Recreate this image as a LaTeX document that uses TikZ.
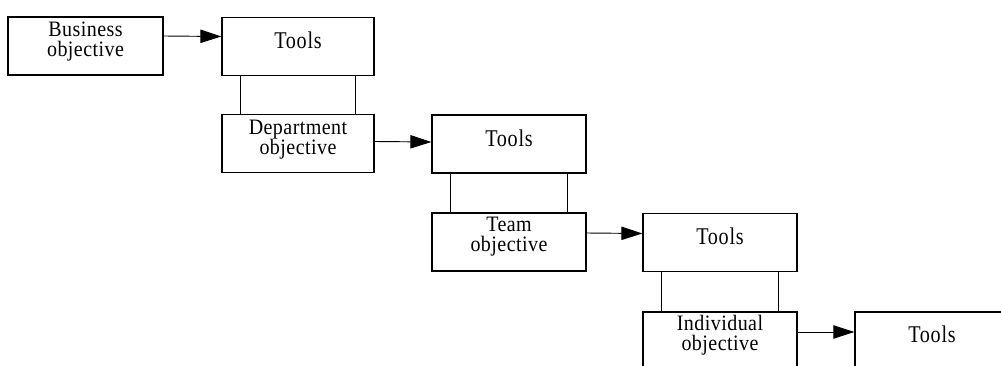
\documentclass[tikz,border=0pt]{standalone}
\usepackage{fontspec}
\setmainfont{Liberation Serif}[LetterSpace=2]
\newfontfamily\toolsfont{Liberation Serif}[FakeStretch=0.84, LetterSpace=3]
\newfontfamily\objfont{Liberation Serif}[FakeStretch=0.91, LetterSpace=2]
\usetikzlibrary{arrows.meta}
\begin{document}
\begin{tikzpicture}[x=0.75pt,y=-0.75pt,
  box/.style={draw, line width=0.9pt, inner sep=0pt,
    minimum width=115.5pt, minimum height=43.5pt},
  lbl/.style={font=\objfont\fontsize{16.5pt}{15pt}\selectfont, align=center, inner sep=0pt, anchor=base},
  tlbl/.style={font=\toolsfont\fontsize{18pt}{18pt}\selectfont, inner sep=0pt, anchor=base},
  flow/.style={-{Triangle[length=15.75pt,width=10pt]}, line width=0.7pt},
  link/.style={line width=0.6pt}]
\useasboundingbox (0,0) rectangle (1001,366);
\clip (0,0) rectangle (1001,366);

% objective / tools boxes
\node[box, minimum width=116.25pt] (biz) at (85.5,46) {};
\node[box, minimum width=114pt] (tools1) at (298,46.5) {};
\node[box, minimum width=114pt] (dept) at (298,143.5) {};
\node[box] (tools2) at (509,144) {};
\node[box] (team) at (509,242) {};
\node[box] (tools3) at (720,242.5) {};
\node[box] (indiv) at (720,341) {};
\node[box] (tools4) at (932,341) {};

% labels (base anchor sits on the last line's baseline)
\node[lbl] (tbiz) at (85.5,57) {Business\\objective};
\node[tlbl] (tt1) at (298,49) {Tools};
\node[lbl] (tdept) at (298,155) {Department\\objective};
\node[tlbl] (tt2) at (509,147) {Tools};
\node[lbl] (tteam) at (509,252) {Team\\objective};
\node[tlbl] (tt3) at (720,245) {Tools};
\node[lbl] (tindiv) at (720,351) {Individual\\objective};
\node[tlbl] (tt4) at (932,343) {Tools};

% arrows from each objective to its tools
\draw[flow] ([yshift=7.5pt]biz.east) -- ([yshift=7.5pt]tools1.west);
\draw[flow] ([yshift=1.5pt]dept.east) -- ([yshift=1.5pt]tools2.west);
\draw[flow] ([yshift=6.75pt]team.east) -- ([yshift=6.75pt]tools3.west);
\draw[flow] ([yshift=6.75pt]indiv.east) -- ([yshift=6.75pt]tools4.west);

% paired links between tools and the next objective
\foreach \t/\o in {tools1/dept, tools2/team, tools3/indiv}{
  \draw[link] ([xshift=14.25pt]\t.south west) -- ([xshift=14.25pt]\o.north west);
  \draw[link] ([xshift=-14.25pt]\t.south east) -- ([xshift=-14.25pt]\o.north east);
}
\end{tikzpicture}
\end{document}
